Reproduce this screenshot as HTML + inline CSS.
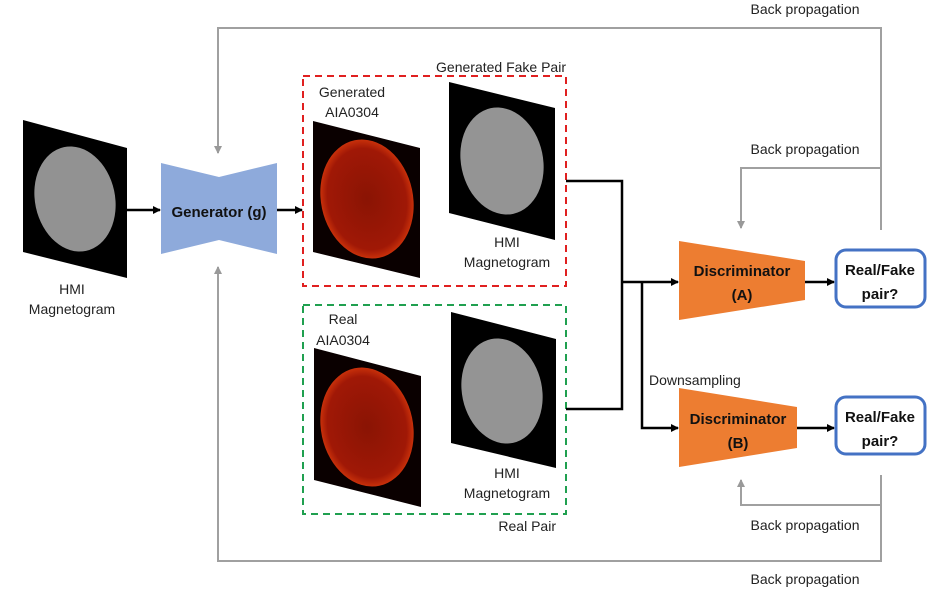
<!DOCTYPE html>
<html><head><meta charset="utf-8"><style>
html,body{margin:0;padding:0;background:#fff}
svg{display:block;font-family:"Liberation Sans",sans-serif}
.lbl{font-size:14px;fill:#222}
.bold{font-size:15px;font-weight:bold;fill:#111}
</style></head><body>
<svg width="936" height="594" viewBox="0 0 936 594">
<defs>
<marker id="ab" markerWidth="8" markerHeight="8" refX="7" refY="4" orient="auto" markerUnits="userSpaceOnUse"><path d="M0,0 L8,4 L0,8z" fill="#000"/></marker>
<marker id="ag" markerWidth="8" markerHeight="8" refX="7" refY="4" orient="auto" markerUnits="userSpaceOnUse"><path d="M0,0 L8,4 L0,8z" fill="#999"/></marker>
<radialGradient id="sun" cx="50%" cy="50%" r="50%"><stop offset="0" stop-color="#8a1404"/><stop offset="0.85" stop-color="#a01806"/><stop offset="1" stop-color="#c8300a"/></radialGradient>
</defs>

<g stroke="#a0a0a0" stroke-width="2" fill="none">
<path d="M881,230 V28 H218 V153" marker-end="url(#ag)"/>
<path d="M881,168 H741 V228" marker-end="url(#ag)"/>
<path d="M881,475 V561 H218 V267" marker-end="url(#ag)"/>
<path d="M881,505 H741 V480" marker-end="url(#ag)"/>
</g>
<text x="805" y="14" text-anchor="middle" class="lbl">Back propagation</text>
<text x="805" y="154" text-anchor="middle" class="lbl">Back propagation</text>
<text x="805" y="530" text-anchor="middle" class="lbl">Back propagation</text>
<text x="805" y="584" text-anchor="middle" class="lbl">Back propagation</text>

<g>
<polygon points="23,120 127,148 127,278 23,252" fill="#000"/>
<ellipse cx="75" cy="199" rx="40" ry="53" transform="rotate(-12 75 199)" fill="#929292"/>
</g>
<text x="72" y="294" text-anchor="middle" class="lbl"><tspan x="72">HMI</tspan><tspan x="72" dy="20">Magnetogram</tspan></text>

<polygon points="161,163 219,177 277,163 277,254 219,240 161,254" fill="#8eaadb"/>
<text x="219" y="217" text-anchor="middle" class="bold">Generator (g)</text>
<g stroke="#000" stroke-width="2.5" fill="none">
<line x1="127" y1="210" x2="160" y2="210" marker-end="url(#ab)"/>
<line x1="277" y1="210" x2="302" y2="210" marker-end="url(#ab)"/>
</g>

<rect x="303" y="76" width="263" height="210" fill="none" stroke="#e02020" stroke-width="2" stroke-dasharray="7,5"/>
<text x="566" y="72" text-anchor="end" class="lbl">Generated Fake Pair</text>
<text x="352" y="97" text-anchor="middle" class="lbl"><tspan x="352">Generated</tspan><tspan x="352" dy="20">AIA0304</tspan></text>
<g>
<polygon points="313,121 420,148 420,278 313,252" fill="#0a0000"/>
<ellipse cx="367" cy="199" rx="46" ry="60" transform="rotate(-12 367 199)" fill="url(#sun)"/>
</g>
<g>
<polygon points="449,82 555,108 555,240 449,213" fill="#000"/>
<ellipse cx="502" cy="161" rx="41" ry="54" transform="rotate(-12 502 161)" fill="#949494"/>
</g>
<text x="507" y="247" text-anchor="middle" class="lbl"><tspan x="507">HMI</tspan><tspan x="507" dy="20">Magnetogram</tspan></text>

<rect x="303" y="305" width="263" height="209" fill="none" stroke="#20a050" stroke-width="2" stroke-dasharray="7,5"/>
<text x="556" y="531" text-anchor="end" class="lbl">Real Pair</text>
<text x="343" y="324" text-anchor="middle" class="lbl"><tspan x="343">Real</tspan><tspan x="343" dy="21">AIA0304</tspan></text>
<g>
<polygon points="314,348 421,376 421,507 314,480" fill="#0a0000"/>
<ellipse cx="367" cy="427" rx="46" ry="60" transform="rotate(-12 367 427)" fill="url(#sun)"/>
</g>
<g>
<polygon points="451,312 556,339 556,468 451,443" fill="#000"/>
<ellipse cx="502" cy="391" rx="40" ry="53" transform="rotate(-12 502 391)" fill="#949494"/>
</g>
<text x="507" y="478" text-anchor="middle" class="lbl"><tspan x="507">HMI</tspan><tspan x="507" dy="20">Magnetogram</tspan></text>

<g stroke="#000" stroke-width="2.5" fill="none">
<path d="M566,181 H622 V409 H566"/>
<path d="M622,282 H678" marker-end="url(#ab)"/>
<path d="M642,282 V428 H678" marker-end="url(#ab)"/>
<path d="M805,282 H834" marker-end="url(#ab)"/>
<path d="M797,428 H834" marker-end="url(#ab)"/>
</g>
<text x="649" y="385" class="lbl">Downsampling</text>

<polygon points="679,241 805,261 805,300 679,320" fill="#ed7d31"/>
<text x="742" y="276" text-anchor="middle" class="bold"><tspan x="742">Discriminator</tspan><tspan x="742" dy="24">(A)</tspan></text>
<polygon points="679,388 797,407 797,448 679,467" fill="#ed7d31"/>
<text x="738" y="424" text-anchor="middle" class="bold"><tspan x="738">Discriminator</tspan><tspan x="738" dy="24">(B)</tspan></text>

<rect x="836" y="250" width="89" height="57" rx="10" fill="#fff" stroke="#4472c4" stroke-width="3"/>
<text x="880" y="275" text-anchor="middle" class="bold"><tspan x="880">Real/Fake</tspan><tspan x="880" dy="24">pair?</tspan></text>
<rect x="836" y="397" width="89" height="57" rx="10" fill="#fff" stroke="#4472c4" stroke-width="3"/>
<text x="880" y="422" text-anchor="middle" class="bold"><tspan x="880">Real/Fake</tspan><tspan x="880" dy="24">pair?</tspan></text>
</svg>
</body></html>
